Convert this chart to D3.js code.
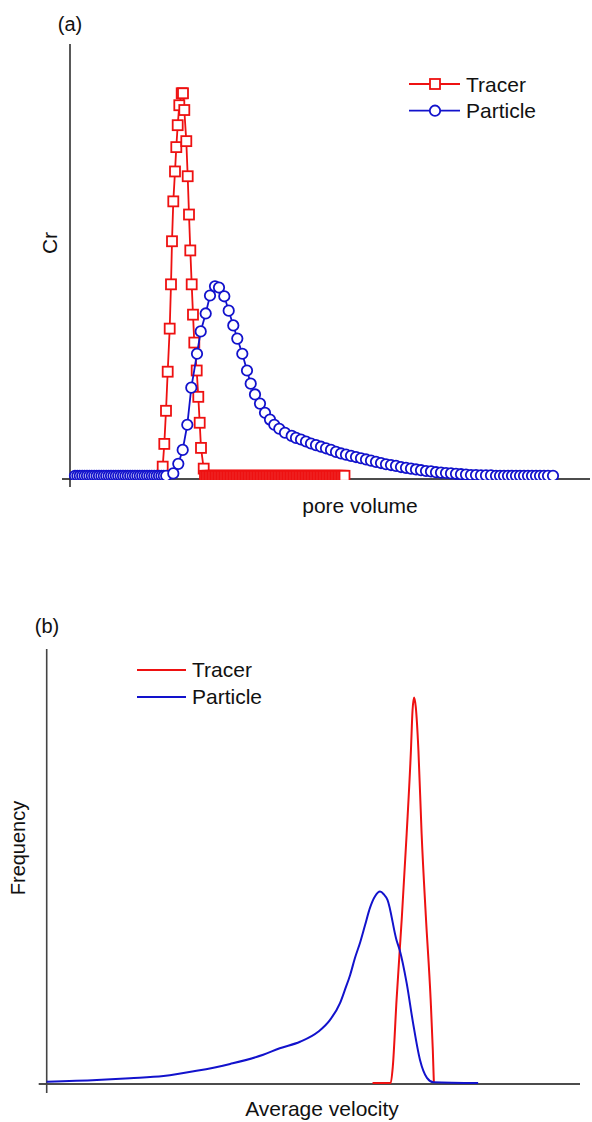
<!DOCTYPE html>
<html>
<head>
<meta charset="utf-8">
<script src="https://cdn.jsdelivr.net/npm/d3@7"></script>
<style>
  body { margin: 0; background: #fff; }
  svg { display: block; }
  text { font-family: "Liberation Sans", Arial, sans-serif; fill: #111; }
</style>
</head>
<body>
<div id="chart"></div>
<script>

// ---- panel (a): breakthrough curves [pore volume, Cr] ----
var tracerA = [
  [0.927,0.023],[0.943,0.080],[0.960,0.163],[0.977,0.261],[0.997,0.369],
  [1.010,0.480],[1.020,0.588],[1.033,0.688],[1.050,0.763],[1.063,0.824],
  [1.077,0.879],[1.093,0.929],[1.117,0.959],[1.130,0.959],[1.143,0.917],
  [1.163,0.839],[1.177,0.751],[1.190,0.655],[1.203,0.565],[1.217,0.480],
  [1.230,0.404],[1.243,0.334],[1.267,0.264],[1.283,0.198],[1.297,0.133],
  [1.310,0.070],[1.337,0.018],
  [1.350,0],[1.365,0],[1.380,0],[1.395,0],[1.410,0],[1.425,0],[1.440,0],[1.455,0],[1.470,0],[1.485,0],
  [1.500,0],[1.515,0],[1.530,0],[1.545,0],[1.560,0],[1.575,0],[1.590,0],[1.605,0],[1.620,0],[1.635,0],
  [1.650,0],[1.665,0],[1.680,0],[1.695,0],[1.710,0],[1.725,0],[1.740,0],[1.755,0],[1.770,0],[1.785,0],
  [1.800,0],[1.815,0],[1.830,0],[1.845,0],[1.860,0],[1.875,0],[1.890,0],[1.905,0],[1.920,0],[1.935,0],
  [1.950,0],[1.965,0],[1.980,0],[1.995,0],[2.010,0],[2.025,0],[2.040,0],[2.055,0],[2.070,0],[2.085,0],
  [2.100,0],[2.115,0],[2.130,0],[2.145,0],[2.160,0],[2.175,0],[2.190,0],[2.205,0],[2.220,0],[2.235,0],
  [2.250,0],[2.265,0],[2.280,0],[2.295,0],[2.310,0],[2.325,0],[2.340,0],[2.355,0],[2.370,0],[2.385,0],
  [2.400,0],[2.415,0],[2.430,0],[2.445,0],[2.460,0],[2.475,0],[2.490,0],[2.505,0],[2.520,0],[2.535,0],
  [2.550,0],[2.565,0],[2.580,0],[2.595,0],[2.610,0],[2.625,0],[2.640,0],[2.655,0],[2.670,0],[2.685,0],
  [2.700,0],[2.715,0],[2.730,0],[2.745,0]
];

var particleA = [
  [0.050,0],[0.074,0],[0.098,0],[0.122,0],[0.146,0],[0.170,0],[0.194,0],[0.218,0],[0.242,0],[0.266,0],
  [0.290,0],[0.314,0],[0.338,0],[0.362,0],[0.386,0],[0.410,0],[0.434,0],[0.458,0],[0.482,0],[0.506,0],
  [0.530,0],[0.554,0],[0.578,0],[0.602,0],[0.626,0],[0.650,0],[0.674,0],[0.698,0],[0.722,0],[0.746,0],
  [0.770,0],[0.794,0],[0.818,0],[0.842,0],[0.866,0],[0.890,0],[0.914,0],[0.938,0],[0.962,0],
  [1.033,0.006],[1.083,0.030],[1.127,0.065],[1.173,0.128],[1.213,0.221],[1.270,0.306],
  [1.307,0.362],[1.357,0.407],[1.400,0.452],[1.450,0.475],[1.490,0.472],[1.543,0.450],
  [1.587,0.414],[1.633,0.377],[1.673,0.344],[1.723,0.306],[1.770,0.264],[1.807,0.231],
  [1.850,0.204],[1.900,0.181],[1.950,0.158],[2.000,0.141],[2.043,0.128],[2.093,0.118],
  [2.150,0.108],[2.217,0.100],
  [2.26,0.095],[2.31,0.091],[2.36,0.086],[2.41,0.081],[2.46,0.077],[2.51,0.073],[2.56,0.069],
  [2.61,0.065],[2.66,0.060],[2.71,0.056],[2.76,0.053],[2.81,0.050],[2.86,0.047],[2.91,0.044],
  [2.96,0.041],[3.01,0.038],[3.06,0.035],[3.11,0.032],[3.16,0.029],[3.21,0.027],[3.26,0.025],
  [3.31,0.022],[3.36,0.020],[3.41,0.018],[3.46,0.016],[3.51,0.014],[3.56,0.012],[3.61,0.011],
  [3.66,0.009],[3.71,0.008],[3.76,0.007],[3.81,0.006],[3.86,0.005],[3.91,0.004],[3.96,0.003],
  [4.01,0.002],[4.06,0.002],[4.11,0.001],[4.16,0.001],[4.21,0.001],[4.26,0],[4.30,0],[4.34,0],
  [4.38,0],[4.42,0],[4.46,0],[4.50,0],[4.54,0],[4.58,0],[4.62,0],[4.66,0],[4.70,0],[4.74,0],
  [4.78,0],[4.83,0]
];

// ---- panel (b): velocity distributions [average velocity, frequency] ----
var tracerB = [
  [61.1,0],[64.5,0],[64.9,0.038],[65.6,0.191],[66.6,0.383],[67.5,0.575],[68.3,0.767],
  [68.6,0.859],[68.9,0.888],[69.2,0.867],[69.7,0.767],[70.3,0.575],[71.1,0.383],
  [72.0,0.191],[72.4,0.076],[72.6,0]
];

var particleB = [
  [0,0.003],[9.4,0.007],[15.6,0.011],[21.9,0.016],[28.1,0.028],[34.4,0.044],[40.6,0.065],
  [43.7,0.080],[47.5,0.095],[50.9,0.118],[53.1,0.145],[55.0,0.184],[55.9,0.214],[56.9,0.249],
  [57.8,0.288],[58.8,0.325],[59.7,0.364],[60.6,0.403],[61.6,0.431],[62.5,0.441],[63.2,0.435],
  [63.9,0.422],[65.6,0.329],[66.2,0.306],[67.5,0.230],[68.7,0.138],[70.0,0.053],[71.3,0.012],
  [72.5,0.002],[80.9,0]
];

var seriesNames = ["Tracer", "Particle"];
var seriesColors = ["#ee1111", "#1212cc"];
var panelLabels = ["(a)", "(b)"];
var xTitles = ["pore volume", "Average velocity"];
var yTitles = ["Cr", "Frequency"];

var W = 592, H = 1122;
var sq = 10, rad = 5.2, mk = 1.8;   // marker sizes

var svg = d3.select("#chart").append("svg")
  .attr("width", W)
  .attr("height", H);

// scales
var xA = d3.scaleLinear().domain([0, 5.2]).range([70, 590]);
var yA = d3.scaleLinear().domain([-0.008, 1.08]).range([479, 45]);
var xB = d3.scaleLinear().domain([0, 100]).range([46.7, 580]);
var yB = d3.scaleLinear().domain([0, 1]).range([1083, 649]);

// ---------- panel (a) ----------
var gA = svg.append("g");

// axes (no ticks, crossing stubs)
gA.append("line")
  .attr("x1", xA.range()[0] - 8).attr("x2", xA.range()[1])
  .attr("y1", yA.range()[0]).attr("y2", yA.range()[0])
  .attr("stroke", "#111").attr("stroke-width", 1.5);
gA.append("line")
  .attr("x1", xA.range()[0]).attr("x2", xA.range()[0])
  .attr("y1", yA.range()[1] - 1).attr("y2", yA.range()[0] + 8)
  .attr("stroke", "#222").attr("stroke-width", 1.5);

svg.append("clipPath").attr("id", "clipA")
  .append("rect")
  .attr("x", 60).attr("y", 30)
  .attr("width", 532).attr("height", yA.range()[0] + 1 - 30);

var plotA = gA.append("g").attr("clip-path", "url(#clipA)");

var lineA = d3.line()
  .x(d => xA(d[0]))
  .y(d => yA(d[1]));

// tracer
plotA.append("path")
  .datum(tracerA)
  .attr("d", lineA)
  .attr("fill", "none")
  .attr("stroke", seriesColors[0])
  .attr("stroke-width", 1.8);

plotA.selectAll("rect.tr")
  .data(tracerA)
  .enter().append("rect")
  .attr("class", "tr")
  .attr("x", d => xA(d[0]) - sq / 2)
  .attr("y", d => yA(d[1]) - sq / 2)
  .attr("width", sq)
  .attr("height", sq)
  .attr("fill", "#fff")
  .attr("stroke", seriesColors[0])
  .attr("stroke-width", mk);

// particle
plotA.append("path")
  .datum(particleA)
  .attr("d", lineA)
  .attr("fill", "none")
  .attr("stroke", seriesColors[1])
  .attr("stroke-width", 1.8);

plotA.selectAll("circle.pa")
  .data(particleA)
  .enter().append("circle")
  .attr("class", "pa")
  .attr("cx", d => xA(d[0]))
  .attr("cy", d => yA(d[1]))
  .attr("r", rad)
  .attr("fill", "#fff")
  .attr("stroke", seriesColors[1])
  .attr("stroke-width", mk);

// legend (a)
var legA = gA.append("g");
seriesNames.forEach(function (name, i) {
  var ly = 84 + i * 26.7;
  legA.append("line")
    .attr("x1", 409).attr("x2", 460)
    .attr("y1", ly).attr("y2", ly)
    .attr("stroke", seriesColors[i]).attr("stroke-width", 1.8);
  if (i == 0) {
    legA.append("rect")
      .attr("x", 435 - sq / 2).attr("y", ly - sq / 2)
      .attr("width", sq).attr("height", sq)
      .attr("fill", "#fff").attr("stroke", seriesColors[i]).attr("stroke-width", mk);
  } else {
    legA.append("circle")
      .attr("cx", 435).attr("cy", ly).attr("r", rad)
      .attr("fill", "#fff").attr("stroke", seriesColors[i]).attr("stroke-width", mk);
  }
  legA.append("text")
    .attr("x", 466).attr("y", ly + 7.5)
    .style("font-size", "21px")
    .text(name);
});

gA.append("text")
  .attr("x", 70).attr("y", 31)
  .attr("text-anchor", "middle")
  .style("font-size", "20px")
  .text(panelLabels[0]);

gA.append("text")
  .attr("transform", "translate(56.5,243) rotate(-90)")
  .attr("text-anchor", "middle")
  .style("font-size", "21px")
  .text(yTitles[0]);

gA.append("text")
  .attr("x", 360).attr("y", 512.5)
  .attr("text-anchor", "middle")
  .style("font-size", "21px")
  .text(xTitles[0]);

// ---------- panel (b) ----------
var gB = svg.append("g");

gB.append("line")
  .attr("x1", xB.range()[0] - 8).attr("x2", xB.range()[1])
  .attr("y1", yB.range()[0] + 1).attr("y2", yB.range()[0] + 1)
  .attr("stroke", "#111").attr("stroke-width", 1.6);
gB.append("line")
  .attr("x1", xB.range()[0]).attr("x2", xB.range()[0])
  .attr("y1", yB.range()[1]).attr("y2", yB.range()[0] + 10)
  .attr("stroke", "#444").attr("stroke-width", 1.6);

var lineB = d3.line()
  .x(d => xB(d[0]))
  .y(d => yB(d[1]))
  .curve(d3.curveMonotoneX);

gB.append("path")
  .datum(tracerB)
  .attr("d", lineB)
  .attr("fill", "none")
  .attr("stroke", seriesColors[0])
  .attr("stroke-width", 2);

gB.append("path")
  .datum(particleB)
  .attr("d", lineB)
  .attr("fill", "none")
  .attr("stroke", seriesColors[1])
  .attr("stroke-width", 2);

// legend (b)
seriesNames.forEach(function (name, i) {
  var ly = 670 + i * 27;
  gB.append("line")
    .attr("x1", 137).attr("x2", 186)
    .attr("y1", ly).attr("y2", ly)
    .attr("stroke", seriesColors[i]).attr("stroke-width", 2);
  gB.append("text")
    .attr("x", 192).attr("y", ly + 7.3)
    .style("font-size", "21px")
    .text(name);
});

gB.append("text")
  .attr("x", 47).attr("y", 633)
  .attr("text-anchor", "middle")
  .style("font-size", "20px")
  .text(panelLabels[1]);

gB.append("text")
  .attr("transform", "translate(25,848) rotate(-90)")
  .attr("text-anchor", "middle")
  .style("font-size", "20px")
  .text(yTitles[1]);

gB.append("text")
  .attr("x", 322).attr("y", 1116)
  .attr("text-anchor", "middle")
  .style("font-size", "21px")
  .text(xTitles[1]);

</script>
</body>
</html>
